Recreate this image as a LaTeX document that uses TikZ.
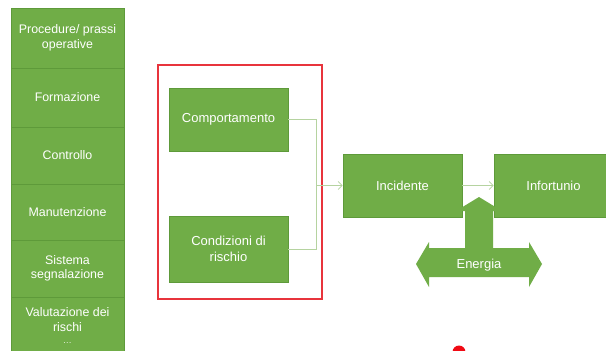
\documentclass[tikz,border=0pt]{standalone}
\usepackage{fontspec}
\setmainfont{Liberation Sans}
\usetikzlibrary{arrows.meta}
\definecolor{boxgreen}{HTML}{70AD47}
\definecolor{edgegreen}{HTML}{5E9A3A}
\definecolor{linkgreen}{HTML}{B5D3A0}
\definecolor{framered}{HTML}{E8343C}
\definecolor{dotred}{HTML}{F00A14}
\begin{document}
\begin{tikzpicture}[x=1pt,y=-1pt,
  greenbox/.style={fill=boxgreen, draw=edgegreen, line width=0.6pt, text=white, align=center, inner sep=0pt},
  colbox/.style={greenbox, minimum width=113pt, font=\fontsize{12.4}{14.5}\selectfont},
  mainbox/.style={greenbox, minimum width=119pt, minimum height=63pt, font=\fontsize{13}{16}\selectfont},
  link/.style={draw=linkgreen, line width=0.8pt},
  linkarrow/.style={link, -{Straight Barb[length=4pt,width=8pt]}}
]
\useasboundingbox (0,0) rectangle (606,351);
\clip (0,0) rectangle (606,351);
\fill[white] (0,0) rectangle (606,351);

% column of measures
\node[colbox, minimum height=60pt] (proc) at (67.5,38) {Procedure/ prassi\\operative};
\node[colbox, minimum height=59pt] (form) at (67.5,97.5) {Formazione};
\node[colbox, minimum height=57pt] (ctrl) at (67.5,155.5) {Controllo};
\node[colbox, minimum height=56pt] (manu) at (67.5,212) {Manutenzione};
\node[colbox, minimum height=57pt] (segn) at (67.5,268.5) {Sistema\\segnalazione};
\node[colbox, minimum height=58pt] (valu) at (67.5,326) {Valutazione dei\\rischi\\[-2pt]{\color{white!85!boxgreen}\fontsize{9}{10}\selectfont …}};

% causes inside the red frame
\node[draw=framered, line width=1.2pt, minimum width=164pt, minimum height=234pt, inner sep=0pt] (frame) at (240,182) {};
\node[mainbox] (comp) at (228.5,119.5) {Comportamento};
\node[mainbox, minimum height=66pt] (cond) at (228.5,249) {Condizioni di\\rischio};

% events
\node[mainbox] (inc) at (402.5,185.5) {Incidente};
\node[mainbox] (inf) at (553.5,185.5) {Infortunio};

% connectors
\coordinate (join) at (316,185.5);
\draw[link] (comp.east) -- (comp.east -| join) -- (join);
\draw[link] (cond.east) -- (cond.east -| join) -- (join);
\draw[linkarrow] (join) -- (inc.west);
\draw[linkarrow] (inc.east) -- (inf.west);

% energy arrow
\fill[boxgreen] (416,264) -- (429,242) -- (429,248) -- (465,248) -- (465,211)
  -- (456,211) -- (479,197) -- (502,211) -- (493,211) -- (493,248)
  -- (529,248) -- (529,242) -- (542,264) -- (529,287) -- (529,277)
  -- (429,277) -- (429,287) -- cycle;
\node[text=white, font=\fontsize{13}{15}\selectfont] (energia) at (479,265) {Energia};

% pointer dot
\fill[dotred] (459,352) circle (6.5);
\end{tikzpicture}
\end{document}
